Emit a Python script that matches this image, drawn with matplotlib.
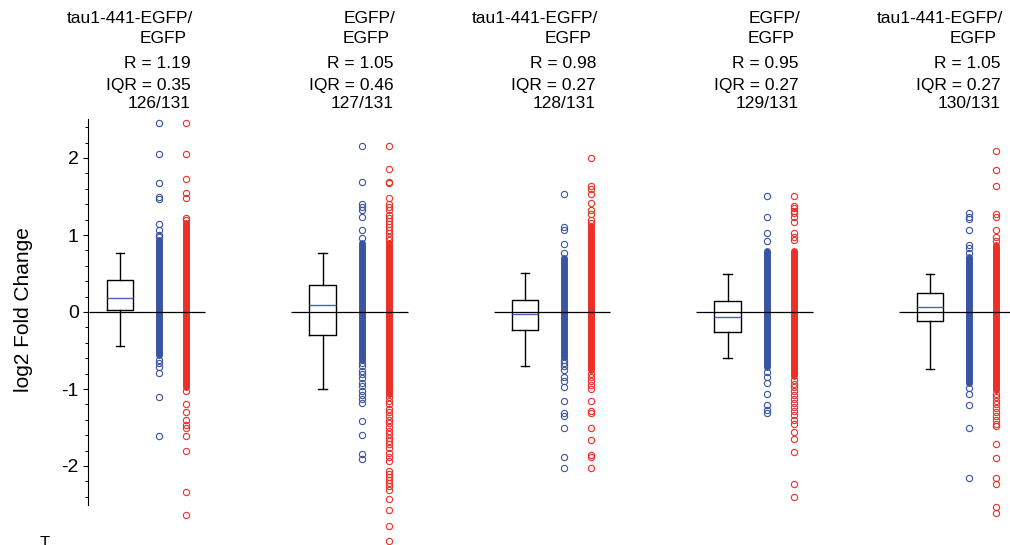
import numpy as np
import matplotlib.pyplot as plt
from matplotlib.ticker import FixedLocator
from matplotlib.transforms import blended_transform_factory

plt.rcParams['font.family'] = ['Liberation Sans', 'DejaVu Sans']
plt.rcParams['axes.unicode_minus'] = False

# header text for each group
names = ['tau1-441-EGFP/', 'EGFP/', 'tau1-441-EGFP/', 'EGFP/', 'tau1-441-EGFP/']
r_vals = ['1.19', '1.05', '0.98', '0.95', '1.05']
iqr_vals = ['0.35', '0.46', '0.27', '0.27', '0.27']
counts = ['126/131', '127/131', '128/131', '129/131', '130/131']

# box stats
whis_lo = [-0.44, -1.00, -0.70, -0.60, -0.74]
q1 = [0.02, -0.30, -0.24, -0.26, -0.12]
med = [0.18, 0.09, -0.02, -0.06, 0.07]
q3 = [0.41, 0.35, 0.16, 0.14, 0.25]
whis_hi = [0.76, 0.77, 0.51, 0.50, 0.50]

# solid (overplotted) part of each column: (low, high)
blue_core = [(-0.56, 0.93), (-0.62, 0.89), (-0.58, 0.70), (-0.72, 0.79), (-0.92, 0.72)]
red_core = [(-0.98, 1.15), (-1.06, 0.90), (-0.75, 1.12), (-0.83, 0.79), (-1.01, 0.87)]

# separately visible points of each column
blue_pts = [
    [2.45, 2.05, 1.67, 1.49, 1.47, 1.14, 1.06, 1.00, 0.97,
     -0.62, -0.66, -0.71, -0.79, -1.11, -1.61],
    [2.16, 1.69, 1.40, 1.37, 1.32, 1.23, 1.06, 0.96,
     -0.66, -0.70, -0.76, -0.80, -0.86, -0.92, -0.96, -1.02, -1.08, -1.13, -1.18,
     -1.41, -1.60, -1.84, -1.91],
    [1.53, 1.10, 1.07, 0.88, 0.76,
     -0.62, -0.66, -0.70, -0.75, -0.84, -0.90, -0.97, -1.15, -1.31, -1.35, -1.50, -1.88, -2.03],
    [1.50, 1.23, 1.02, 0.92,
     -0.78, -0.85, -0.92, -1.06, -1.21, -1.27, -1.31],
    [1.28, 1.24, 1.21, 1.06, 0.87, 0.83, 0.77,
     -0.99, -1.07, -1.21, -1.50, -2.15],
]
red_pts = [
    [2.45, 2.05, 1.73, 1.54, 1.48, 1.22, 1.19,
     -1.03, -1.19, -1.30, -1.40, -1.47, -1.51, -1.61, -1.81, -2.34, -2.64],
    [2.16, 1.86, 1.69, 1.67, 1.48, 1.40, 1.37, 1.32, 1.26, 1.22, 1.18, 1.14, 1.10,
     1.06, 1.02, 0.98, 0.94,
     -1.10, -1.15, -1.20, -1.26, -1.30, -1.35, -1.40, -1.44, -1.49, -1.54, -1.58,
     -1.63, -1.67, -1.72, -1.77, -1.83, -1.88, -1.93, -2.06, -2.10, -2.14, -2.18,
     -2.22, -2.26, -2.31, -2.43, -2.57, -2.78, -2.98],
    [2.00, 1.64, 1.60, 1.53, 1.41, 1.32, 1.27, 1.19, 1.15,
     -0.80, -0.85, -0.90, -0.95, -1.00, -1.15, -1.29, -1.31, -1.50, -1.66, -1.86, -1.88, -2.03],
    [1.50, 1.38, 1.35, 1.31, 1.29, 1.23, 1.17, 1.03, 0.98, 0.93,
     -0.88, -0.93, -0.98, -1.03, -1.08, -1.13, -1.18, -1.24, -1.29, -1.34, -1.40,
     -1.46, -1.56, -1.65, -1.82, -2.23, -2.40],
    [2.09, 1.84, 1.64, 1.27, 1.23, 1.06, 0.98, 0.92,
     -1.07, -1.11, -1.16, -1.20, -1.25, -1.30, -1.35, -1.40, -1.45, -1.48,
     -1.71, -1.90, -2.15, -2.24, -2.53, -2.61],
]

blue = '#3a54a4'
red = '#ec2f27'

fig = plt.figure(figsize=(10.1, 5.45), dpi=100)
ax = fig.add_axes([88 / 1010, 0, 922 / 1010, 445 / 545])
ax.set_ylim(-233 / 77, 212 / 77)
ax.set_xlim(-32 / 202.5, 4 + 80 / 202.5)

gx = np.arange(len(names))
blue_off, red_off = 0.193, 0.326

# boxes
stats = [dict(med=med[i], q1=q1[i], q3=q3[i], whislo=whis_lo[i], whishi=whis_hi[i], fliers=[])
         for i in range(len(gx))]
ax.bxp(stats, positions=gx, widths=0.133, showfliers=False, manage_ticks=False,
       capwidths=0.04,
       boxprops=dict(color='black', lw=1.0),
       whiskerprops=dict(color='black', lw=1.0),
       capprops=dict(color='black', lw=1.0),
       medianprops=dict(color='#4a62b8', lw=1.0))

# point columns
for i in range(len(gx)):
    for off, core, pts, col in [(blue_off, blue_core[i], blue_pts[i], blue),
                                (red_off, red_core[i], red_pts[i], red)]:
        x = gx[i] + off
        ax.vlines(x, core[0], core[1], color=col, lw=5.0, capstyle='round', zorder=2)
        ax.plot(np.full(len(pts), x), pts, 'o', ms=4.5, mfc='none', mec=col, mew=0.8,
                zorder=3, clip_on=False)
    # zero line per group
    ax.hlines(0, gx[i] - 0.155, gx[i] + 0.42, color='black', lw=0.9, zorder=4)

# axis styling
for s in ['top', 'right', 'bottom']:
    ax.spines[s].set_visible(False)
ax.spines['left'].set_bounds(-2.5, 2.5)
ax.spines['left'].set_linewidth(0.8)
ax.set_xticks([])
ax.yaxis.set_major_locator(FixedLocator([-2, -1, 0, 1, 2]))
ax.yaxis.set_minor_locator(FixedLocator([v / 5 for v in range(-12, 13) if v % 5 != 0]))
ax.tick_params(axis='y', which='major', length=3.6, width=0.8, labelsize=14, pad=3)
ax.tick_params(axis='y', which='minor', length=2.2, width=0.7)
ax.set_yticklabels(['-2', '-1', '0', '1', '2'])

ax.set_ylabel('log2 Fold Change', fontsize=15)
ax.yaxis.set_label_coords(-0.0597, 0.53)

# header text above each group
tr = blended_transform_factory(ax.transData, fig.transFigure)
fs = 12.5
for i in range(len(gx)):
    x = gx[i]
    ax.text(x + 0.36, 1 - 23 / 545, names[i], transform=tr, ha='right', fontsize=fs)
    ax.text(x + 0.33, 1 - 43 / 545, 'EGFP', transform=tr, ha='right', fontsize=fs)
    ax.text(x + 0.35, 1 - 68 / 545, 'R = ' + r_vals[i], transform=tr, ha='right', fontsize=fs)
    ax.text(x + 0.35, 1 - 90 / 545, 'IQR = ' + iqr_vals[i], transform=tr, ha='right', fontsize=fs)
    ax.text(x + 0.35, 1 - 108 / 545, counts[i], transform=tr, ha='right', fontsize=fs)

# fragment of a label cut off at the bottom edge, as in the source image
fig.text(45 / 1010, 1 - 536 / 545, 'T', ha='center', va='top', fontsize=12)

fig.savefig('out.png', dpi=100)
